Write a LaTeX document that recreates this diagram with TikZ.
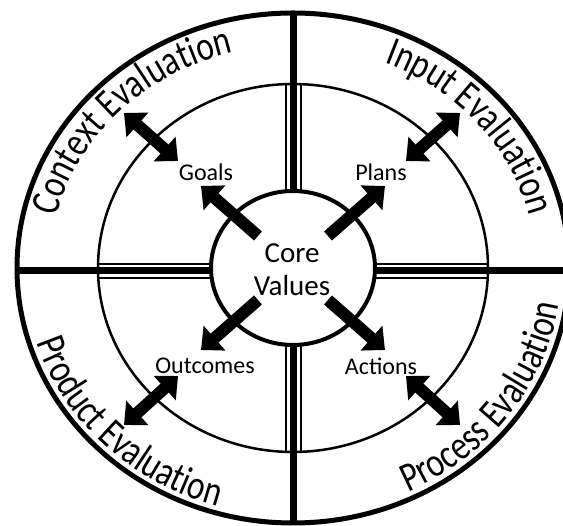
\documentclass[tikz,border=0pt]{standalone}
\usepackage{fontspec}
\setmainfont{Carlito}
\usepackage{tikz}
\usetikzlibrary{arrows.meta,decorations.text}
\newcommand{\ringfont}{\fontsize{33}{33}\selectfont}

\begin{document}
\begin{tikzpicture}[x=1pt,y=1pt]
\tikzstyle{every node}+=[inner sep=0pt]
\tikzstyle{onearrow}=[line width=12pt, -{Triangle[length=18pt,width=32pt]}]
\tikzstyle{twoarrow}=[line width=12pt, {Triangle[length=18pt,width=32pt]}-{Triangle[length=18pt,width=32pt]}]
\tikzstyle{ringtext}=[decorate, decoration={text along path, text align=center, text format delimiters={|}{|}, transform={yscale=1.25}}]
\clip (0,0) rectangle (563,526);
% rings
\draw [black, line width=5pt] (293,258) ellipse [x radius=276, y radius=255];
\draw [black, line width=2.5pt] (293,258) ellipse [x radius=195, y radius=184];
% dividers
\draw [black, line width=7pt] (293.5,513) -- (293.5,335);
\draw [black, line width=7pt] (293.5,181) -- (293.5,3);
\draw [black, line width=7pt] (17,255) -- (211,255);
\draw [black, line width=7pt] (375,255) -- (563,255);
\draw [black, line width=1.8pt] (286,335) -- (286,442);
\draw [black, line width=1.8pt] (301,335) -- (301,442);
\draw [black, line width=1.8pt] (286,181) -- (286,74);
\draw [black, line width=1.8pt] (301,181) -- (301,74);
\draw [black, line width=1.8pt] (98,262) -- (212,262);
\draw [black, line width=1.8pt] (98,248) -- (212,248);
\draw [black, line width=1.8pt] (374,262) -- (488,262);
\draw [black, line width=1.8pt] (374,248) -- (488,248);
% core
\draw [black, line width=4pt, fill=white] (293,258) ellipse [x radius=82, y radius=77];
\node (core) at (292,256) [align=center, font=\fontsize{29}{33}\selectfont] {Core\\Values};
% labels
\node (goals) at (206,354) [font=\fontsize{24}{24}\selectfont] {Goals};
\node (plans) at (381,354) [font=\fontsize{24}{24}\selectfont] {Plans};
\node (outcomes) at (205,160) [font=\fontsize{24}{24}\selectfont] {Outcomes};
\node (actions) at (381,160) [font=\fontsize{24}{24}\selectfont] {Actions};
% arrow ends
\coordinate (gl-a) at (258,290);
\coordinate (gl-b) at (201,340);
\coordinate (gl-c) at (178,365);
\coordinate (gl-d) at (124,413);
\coordinate (pl-a) at (328,290);
\coordinate (pl-b) at (385,340);
\coordinate (pl-c) at (406,365);
\coordinate (pl-d) at (460,413);
\coordinate (oc-a) at (258,226);
\coordinate (oc-b) at (201,176);
\coordinate (oc-c) at (178,150);
\coordinate (oc-d) at (124,101);
\coordinate (ac-a) at (328,226);
\coordinate (ac-b) at (385,176);
\coordinate (ac-c) at (406,150);
\coordinate (ac-d) at (460,101);
\draw [onearrow] (gl-a) -- (gl-b);
\draw [onearrow] (pl-a) -- (pl-b);
\draw [onearrow] (oc-a) -- (oc-b);
\draw [onearrow] (ac-a) -- (ac-b);
\draw [twoarrow] (gl-c) -- (gl-d);
\draw [twoarrow] (pl-c) -- (pl-d);
\draw [twoarrow] (oc-c) -- (oc-d);
\draw [twoarrow] (ac-c) -- (ac-d);
% ring texts
\begin{scope}[shift={(293,258)}]
\path [ringtext, decoration={text={|\ringfont|Context Evaluation}}]
  (181:243 and 222) arc [start angle=181, end angle=91, x radius=243, y radius=222];
\path [ringtext, decoration={text={|\ringfont|Input Evaluation}}]
  (85:243 and 222) arc [start angle=85, end angle=-5, x radius=243, y radius=222];
\path [ringtext, decoration={text={|\ringfont|Product Evaluation}}]
  (180:269 and 248) arc [start angle=180, end angle=270, x radius=269, y radius=248];
\path [ringtext, decoration={text={|\ringfont|Process Evaluation}}]
  (279:269 and 248) arc [start angle=279, end angle=369, x radius=269, y radius=248];
\end{scope}
\end{tikzpicture}
\end{document}
